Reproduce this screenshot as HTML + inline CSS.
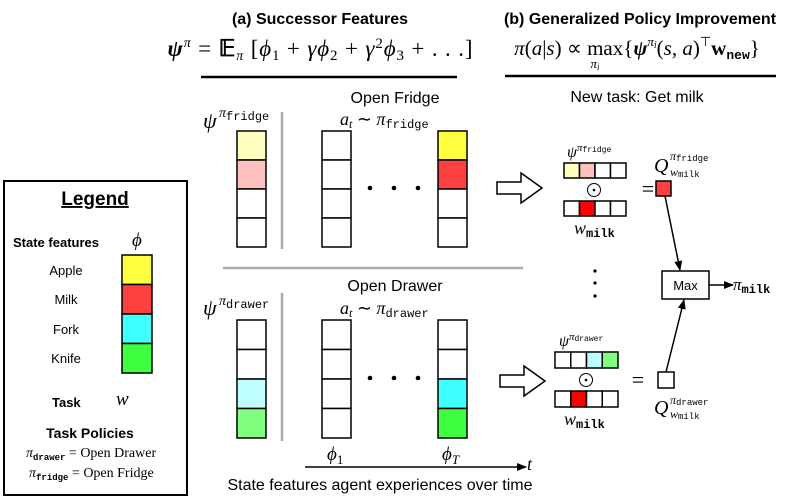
<!DOCTYPE html>
<html><head><meta charset="utf-8"><style>
html,body{margin:0;padding:0;background:#fff}
svg{display:block}
.s{font-family:"Liberation Sans",sans-serif}
.r{font-family:"Liberation Serif",serif}
.m{font-family:"Liberation Mono",monospace}
</style></head><body>
<svg width="798" height="498" viewBox="0 0 798 498" xmlns="http://www.w3.org/2000/svg">
<defs><marker id="ah" markerWidth="10" markerHeight="8" refX="9" refY="4" orient="auto" markerUnits="userSpaceOnUse"><path d="M0,0 L10,4 L0,8 Z" fill="#000"/></marker></defs>
<!-- titles -->
<text x="320" y="24" class="s" font-size="16" font-weight="bold" text-anchor="middle">(a) Successor Features</text>
<text x="640" y="24" class="s" font-size="16" font-weight="bold" text-anchor="middle">(b) Generalized Policy Improvement</text>
<text x="320" y="56" class="r" font-size="23" text-anchor="middle" textLength="305" lengthAdjust="spacing"><tspan font-weight="bold" font-style="italic">ψ</tspan><tspan font-size="14" dy="-9" font-style="italic">π</tspan><tspan dy="9"> = </tspan><tspan font-weight="bold">𝔼</tspan><tspan font-size="14" dy="4" font-style="italic">π</tspan><tspan dy="-4"> [</tspan><tspan font-style="italic">ϕ</tspan><tspan font-size="15" dy="4">1</tspan><tspan dy="-4"> + </tspan><tspan font-style="italic">γϕ</tspan><tspan font-size="15" dy="4">2</tspan><tspan dy="-4"> + </tspan><tspan font-style="italic">γ</tspan><tspan font-size="15" dy="-8">2</tspan><tspan dy="8" font-style="italic">ϕ</tspan><tspan font-size="15" dy="4">3</tspan><tspan dy="-4"> + . . .]</tspan></text>
<line x1="201" y1="77" x2="457" y2="77" stroke="#000" stroke-width="2.5"/>
<text x="637" y="55" class="r" font-size="21" text-anchor="middle"><tspan font-style="italic">π</tspan>(<tspan font-style="italic">a</tspan>|<tspan font-style="italic">s</tspan>) ∝ max{<tspan font-weight="bold" font-style="italic">ψ</tspan><tspan font-size="13" dy="-9" font-style="italic">π</tspan><tspan font-size="10" dy="2" font-style="italic">i</tspan><tspan dy="7">(</tspan><tspan font-style="italic">s</tspan>, <tspan font-style="italic">a</tspan>)<tspan font-size="13" dy="-9">⊤</tspan><tspan dy="9" font-weight="bold">w</tspan><tspan class="m" font-size="13" font-weight="bold" dy="4">new</tspan><tspan dy="-4">}</tspan></text>
<text x="595" y="68" class="r" font-size="13" font-style="italic" text-anchor="middle">π<tspan font-size="9" dy="2">i</tspan></text>
<line x1="505" y1="76" x2="776" y2="76" stroke="#000" stroke-width="2.5"/>
<text x="637" y="102" class="s" font-size="16" text-anchor="middle">New task: Get milk</text>

<!-- Legend -->
<rect x="4" y="181" width="183" height="314" fill="#fff" stroke="#000" stroke-width="2"/>
<text x="95" y="205" class="s" font-size="19" font-weight="bold" text-anchor="middle" text-decoration="underline">Legend</text>
<text x="13" y="247" class="s" font-size="13" font-weight="bold">State features</text>
<text x="132" y="246" class="r" font-size="19" font-style="italic">ϕ</text>
<g class="s" font-size="13" text-anchor="middle">
<text x="66" y="275">Apple</text><text x="66" y="304">Milk</text><text x="66" y="334">Fork</text><text x="66" y="363">Knife</text></g>
<g stroke="#000" stroke-width="1.5">
<rect x="122" y="255" width="30" height="29.5" fill="#ffff40"/>
<rect x="122" y="284.5" width="30" height="29.5" fill="#ff4040"/>
<rect x="122" y="314" width="30" height="29.5" fill="#40ffff"/>
<rect x="122" y="343.5" width="30" height="29.5" fill="#40ff40"/></g>
<text x="52" y="407" class="s" font-size="13" font-weight="bold">Task</text>
<text x="116" y="405" class="r" font-size="19" font-style="italic">w</text>
<text x="90" y="438" class="s" font-size="14" font-weight="bold" text-anchor="middle">Task Policies</text>
<text x="26" y="457" class="r" font-size="14"><tspan font-style="italic">π</tspan><tspan class="m" font-size="9" font-weight="bold" dy="3">drawer</tspan><tspan dy="-3"> = Open Drawer</tspan></text>
<text x="29" y="477" class="r" font-size="14"><tspan font-style="italic">π</tspan><tspan class="m" font-size="9" font-weight="bold" dy="3">fridge</tspan><tspan dy="-3"> = Open Fridge</tspan></text>

<!-- fridge section -->
<text x="203" y="128" class="r" font-size="22" font-style="italic">ψ</text>
<text x="219" y="117" class="r" font-size="14" font-style="italic">π<tspan class="m" font-size="12" font-style="normal" dy="3">fridge</tspan></text>
<text x="395" y="103" class="s" font-size="16" text-anchor="middle">Open Fridge</text>
<text x="340" y="125" class="r" font-size="18" font-style="italic">a<tspan font-size="12" dy="3">t</tspan><tspan dy="-3" font-style="normal"> ∼ </tspan>π<tspan class="m" font-size="12" font-style="normal" dy="3">fridge</tspan></text>
<line x1="282" y1="112" x2="282" y2="249" stroke="#aaa" stroke-width="2.5"/>
<line x1="223" y1="268" x2="523" y2="268" stroke="#aaa" stroke-width="2.5"/>
<g stroke="#000" stroke-width="1.5" fill="#fff">
<rect x="237" y="131" width="29" height="29" fill="#ffffc0"/><rect x="237" y="160" width="29" height="29" fill="#ffc0c0"/><rect x="237" y="189" width="29" height="29"/><rect x="237" y="218" width="29" height="29"/>
<rect x="322" y="131" width="29" height="29"/><rect x="322" y="160" width="29" height="29"/><rect x="322" y="189" width="29" height="29"/><rect x="322" y="218" width="29" height="29"/>
<rect x="438" y="131" width="29" height="29" fill="#ffff40"/><rect x="438" y="160" width="29" height="29" fill="#ff4040"/><rect x="438" y="189" width="29" height="29"/><rect x="438" y="218" width="29" height="29"/>
</g>
<g fill="#000"><circle cx="370" cy="188" r="2.3"/><circle cx="394" cy="188" r="2.3"/><circle cx="418" cy="188" r="2.3"/>
<circle cx="370" cy="378" r="2.3"/><circle cx="394" cy="378" r="2.3"/><circle cx="418" cy="378" r="2.3"/></g>

<!-- drawer section -->
<text x="203" y="315" class="r" font-size="22" font-style="italic">ψ</text>
<text x="219" y="305" class="r" font-size="14" font-style="italic">π<tspan class="m" font-size="12" font-style="normal" dy="3">drawer</tspan></text>
<text x="395" y="291" class="s" font-size="16" text-anchor="middle">Open Drawer</text>
<text x="340" y="314" class="r" font-size="18" font-style="italic">a<tspan font-size="12" dy="3">t</tspan><tspan dy="-3" font-style="normal"> ∼ </tspan>π<tspan class="m" font-size="12" font-style="normal" dy="3">drawer</tspan></text>
<line x1="282" y1="293" x2="282" y2="441" stroke="#aaa" stroke-width="2.5"/>
<g stroke="#000" stroke-width="1.5" fill="#fff">
<rect x="237" y="320" width="29" height="29.5"/><rect x="237" y="349.5" width="29" height="29.5"/><rect x="237" y="379" width="29" height="29.5" fill="#c0ffff"/><rect x="237" y="408.5" width="29" height="29.5" fill="#80ff80"/>
<rect x="322" y="320" width="29" height="29.5"/><rect x="322" y="349.5" width="29" height="29.5"/><rect x="322" y="379" width="29" height="29.5"/><rect x="322" y="408.5" width="29" height="29.5"/>
<rect x="438" y="320" width="29" height="29.5"/><rect x="438" y="349.5" width="29" height="29.5"/><rect x="438" y="379" width="29" height="29.5" fill="#40ffff"/><rect x="438" y="408.5" width="29" height="29.5" fill="#40ff40"/>
</g>
<text x="327" y="460" class="r" font-size="19" font-style="italic">ϕ<tspan font-size="13" font-style="normal" dy="4">1</tspan></text>
<text x="442" y="460" class="r" font-size="19" font-style="italic">ϕ<tspan font-size="13" dy="4">T</tspan></text>
<line x1="305" y1="467" x2="526" y2="467" stroke="#000" stroke-width="1.5" marker-end="url(#ah)"/>
<text x="527" y="470" class="r" font-size="18" font-style="italic">t</text>
<text x="380" y="490" class="s" font-size="16" text-anchor="middle">State features agent experiences over time</text>

<!-- hollow arrows -->
<path d="M497,182 L521,182 L521,173 L542,188 L521,203 L521,194 L497,194 Z" fill="#fff" stroke="#000" stroke-width="1.5"/>
<path d="M500,375 L524,375 L524,366 L545,381 L524,396 L524,387 L500,387 Z" fill="#fff" stroke="#000" stroke-width="1.5"/>

<!-- GPI fridge -->
<text x="567" y="157" class="r" font-size="16" font-style="italic">ψ<tspan font-size="11" dy="-6">π</tspan><tspan class="m" font-size="8" font-style="normal" dy="1">fridge</tspan></text>
<g stroke="#000" stroke-width="1.5" fill="#fff">
<rect x="564" y="163" width="15.5" height="15" fill="#ffffc0"/><rect x="579.5" y="163" width="15.5" height="15" fill="#ffc0c0"/><rect x="595" y="163" width="15.5" height="15"/><rect x="610.5" y="163" width="15.5" height="15"/>
<rect x="564" y="201" width="15.5" height="15"/><rect x="579.5" y="201" width="15.5" height="15" fill="#ff0000"/><rect x="595" y="201" width="15.5" height="15"/><rect x="610.5" y="201" width="15.5" height="15"/>
<rect x="656" y="181" width="15" height="15" fill="#ff4040"/>
</g>
<circle cx="594" cy="190" r="6.5" fill="none" stroke="#000" stroke-width="1"/><circle cx="594" cy="190" r="1.3"/>
<text x="648" y="196" class="r" font-size="22" text-anchor="middle">=</text>
<text x="574" y="234" class="r" font-size="18" font-style="italic">w<tspan class="m" font-size="12" font-style="normal" font-weight="bold" dy="3">milk</tspan></text>
<text x="654" y="172" class="r" font-size="20" font-style="italic">Q</text>
<text x="670" y="160" class="r" font-size="12" font-style="italic">π<tspan class="m" font-size="9" font-style="normal" dy="1">fridge</tspan></text>
<text x="670" y="176" class="r" font-size="12" font-style="italic">w<tspan class="m" font-size="9" font-style="normal" dy="1">milk</tspan></text>

<!-- dots -->
<g fill="#000"><circle cx="595" cy="271" r="1.6"/><circle cx="595" cy="283" r="1.6"/><circle cx="595" cy="296" r="1.6"/></g>

<!-- Max -->
<rect x="662" y="271" width="47" height="28" fill="#fff" stroke="#000" stroke-width="1.5"/>
<text x="685.5" y="290" class="s" font-size="13" text-anchor="middle">Max</text>
<line x1="665" y1="196" x2="680" y2="270" stroke="#000" stroke-width="1.5" marker-end="url(#ah)"/>
<line x1="666" y1="372" x2="684" y2="300" stroke="#000" stroke-width="1.5" marker-end="url(#ah)"/>
<line x1="709" y1="285" x2="733" y2="285" stroke="#000" stroke-width="1.5" marker-end="url(#ah)"/>
<text x="733" y="290" class="r" font-size="17" font-style="italic">π<tspan class="m" font-size="12" font-style="normal" font-weight="bold" dy="3">milk</tspan></text>

<!-- GPI drawer -->
<text x="559" y="346" class="r" font-size="16" font-style="italic">ψ<tspan font-size="11" dy="-6">π</tspan><tspan class="m" font-size="8" font-style="normal" dy="1">drawer</tspan></text>
<g stroke="#000" stroke-width="1.5" fill="#fff">
<rect x="555" y="352" width="15.75" height="16"/><rect x="570.75" y="352" width="15.75" height="16"/><rect x="586.5" y="352" width="15.75" height="16" fill="#c0ffff"/><rect x="602.25" y="352" width="15.75" height="16" fill="#80ff80"/>
<rect x="555" y="391" width="15.75" height="16"/><rect x="570.75" y="391" width="15.75" height="16" fill="#ff0000"/><rect x="586.5" y="391" width="15.75" height="16"/><rect x="602.25" y="391" width="15.75" height="16"/>
<rect x="658" y="372" width="16" height="16"/>
</g>
<circle cx="586" cy="380" r="6.5" fill="none" stroke="#000" stroke-width="1"/><circle cx="586" cy="380" r="1.3"/>
<text x="638" y="387" class="r" font-size="22" text-anchor="middle">=</text>
<text x="564" y="425" class="r" font-size="18" font-style="italic">w<tspan class="m" font-size="12" font-style="normal" font-weight="bold" dy="3">milk</tspan></text>
<text x="654" y="414" class="r" font-size="20" font-style="italic">Q</text>
<text x="670" y="404" class="r" font-size="12" font-style="italic">π<tspan class="m" font-size="9" font-style="normal" dy="1">drawer</tspan></text>
<text x="670" y="418" class="r" font-size="12" font-style="italic">w<tspan class="m" font-size="9" font-style="normal" dy="1">milk</tspan></text>
</svg>
</body></html>
